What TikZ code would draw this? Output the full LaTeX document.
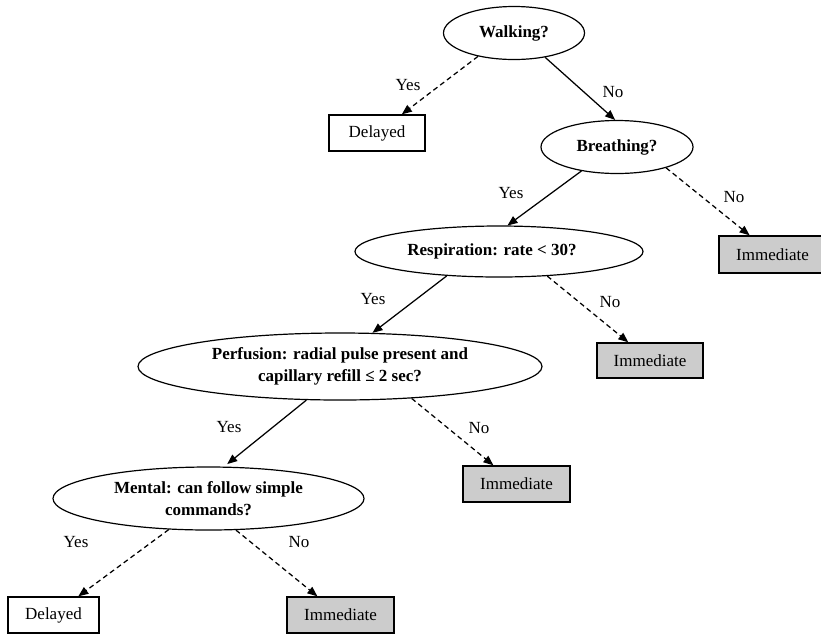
\documentclass[tikz,border=0pt]{standalone}
\usepackage{fontspec}
\setmainfont{Liberation Serif}
\usetikzlibrary{shapes.geometric,arrows.meta}
\tikzset{
  q/.style={ellipse,draw,line width=1.2pt,inner sep=0pt,align=center,font=\bfseries\fontsize{17}{22}\selectfont},
  res/.style={rectangle,draw,line width=1.4pt,inner sep=0pt,font=\fontsize{17}{20}\selectfont},
  imm/.style={res,fill=gray!40},
  lab/.style={inner sep=0pt,font=\fontsize{17}{20}\selectfont},
  yesno/.style={line width=1.25pt,-{Triangle[length=10pt,width=8pt]}},
  dsh/.style={yesno,dash pattern=on 5pt off 3.5pt}
}
\begin{document}
\begin{tikzpicture}[x=1pt,y=-1pt]
\useasboundingbox (0,0) rectangle (821,633);
% questions
\node[q,minimum width=141pt,minimum height=53pt] (walk) at (514,33) {Walking?};
\node[q,minimum width=152pt,minimum height=53pt] (breath) at (617,147) {Breathing?};
\node[q,minimum width=288pt,minimum height=51pt] (resp) at (499,251.5) {Respiration: rate < 30?\hspace*{14pt}};
\node[q,minimum width=404pt,minimum height=67pt] (perf) at (340,366.5) {Perfusion: radial pulse present and\\capillary refill ≤ 2 sec?};
\node[q,minimum width=311pt,minimum height=63pt] (ment) at (208.5,498.5) {Mental: can follow simple\\commands?};
% outcomes
\node[res,minimum width=96pt,minimum height=36pt] (del1) at (377,133) {Delayed};
\node[imm,minimum width=107pt,minimum height=37pt] (imm1) at (772.5,254.5) {Immediate};
\node[imm,minimum width=106pt,minimum height=35pt] (imm2) at (650,360.5) {Immediate};
\node[imm,minimum width=107pt,minimum height=36pt] (imm3) at (516.5,484) {Immediate};
\node[res,minimum width=91pt,minimum height=36pt] (del2) at (53.5,615) {Delayed};
\node[imm,minimum width=107pt,minimum height=36pt] (imm4) at (340.5,615) {Immediate};
% connectors
\draw[dsh] (walk.213.7) -- (del1.37);
\draw[yesno] (walk.322) -- (breath.94);
\draw[yesno] (breath.214) -- (resp.72);
\draw[dsh] (breath.337) -- (imm1.140);
\draw[yesno] (resp.205.7) -- (perf.46.3);
\draw[dsh] (resp.333) -- (imm2.140.6);
\draw[yesno,shorten >=4pt] (perf.225.4) -- (ment.64.3);
\draw[dsh] (perf.336.4) -- (imm3.141.6);
\draw[dsh] (ment.218.9) -- (del2.37.5);
\draw[dsh] (ment.311.5) -- (imm4.141.9);
% labels
\node[lab] (l1) at (408,85) {Yes};
\node[lab] (l2) at (613,92) {No};
\node[lab] (l3) at (511,193) {Yes};
\node[lab] (l4) at (734,197) {No};
\node[lab] (l5) at (373,299) {Yes};
\node[lab] (l6) at (610,302) {No};
\node[lab] (l7) at (229,427) {Yes};
\node[lab] (l8) at (479,428) {No};
\node[lab] (l9) at (76,542) {Yes};
\node[lab] (l10) at (299,542) {No};
\end{tikzpicture}
\end{document}
